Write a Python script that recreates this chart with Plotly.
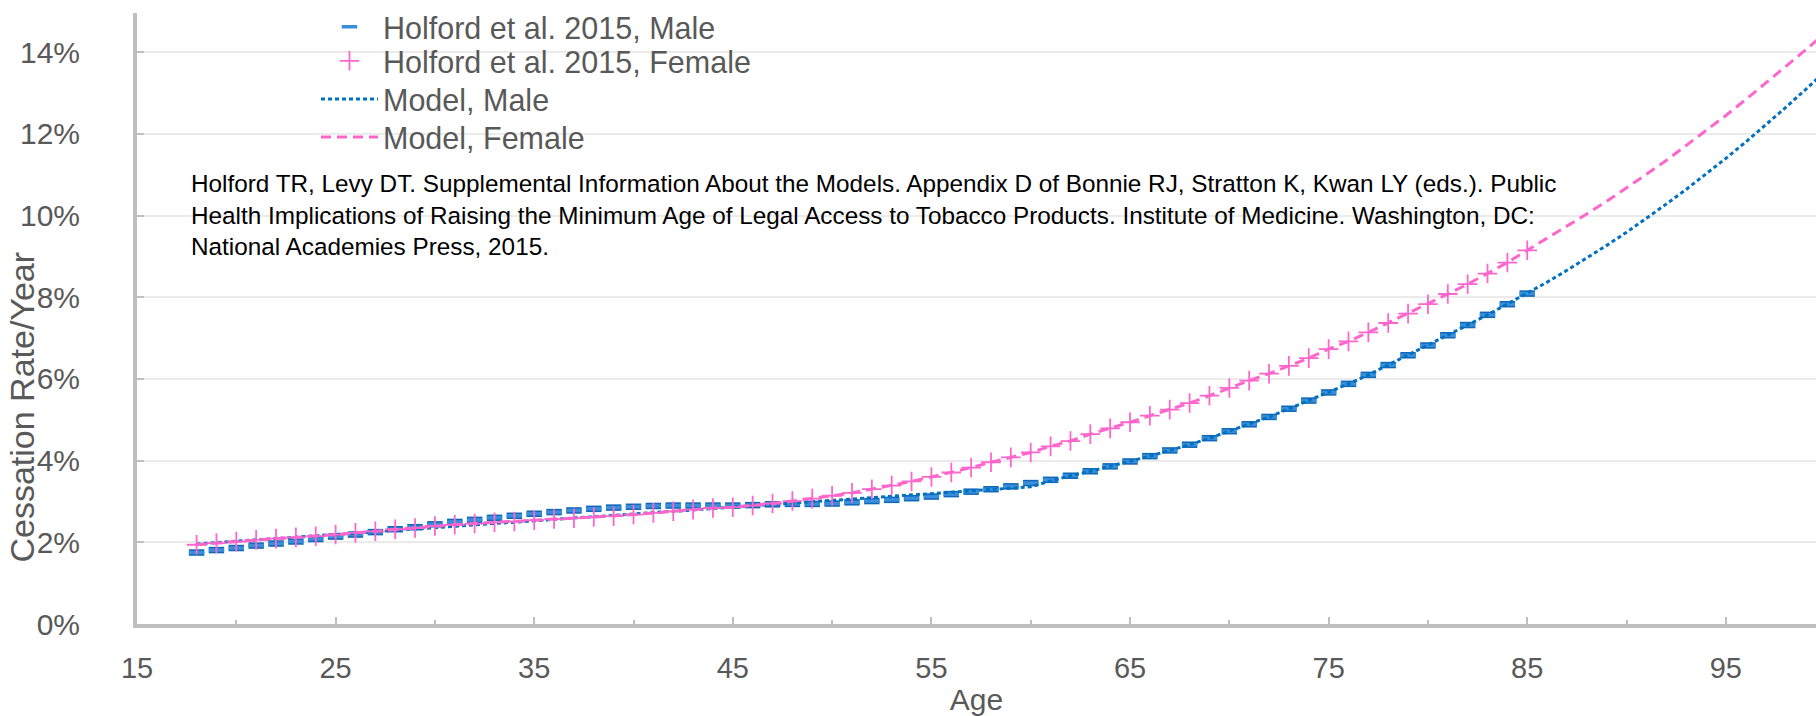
import plotly.graph_objects as go

# ---------------- data ----------------
ages = list(range(18, 86))

holford_male = [1.75, 1.81, 1.86, 1.92, 1.97, 2.02, 2.08, 2.14, 2.19, 2.25,
                2.32, 2.37, 2.44, 2.50, 2.55, 2.60, 2.65, 2.70, 2.74, 2.78,
                2.82, 2.85, 2.87, 2.89, 2.90, 2.90, 2.90, 2.90, 2.91, 2.93,
                2.94, 2.94, 2.95, 2.98, 3.01, 3.04, 3.08, 3.12, 3.18, 3.24,
                3.30, 3.37, 3.45, 3.53, 3.63, 3.74, 3.86, 3.98, 4.11, 4.25,
                4.39, 4.55, 4.72, 4.89, 5.07, 5.27, 5.47, 5.67, 5.88, 6.10,
                6.34, 6.58, 6.82, 7.07, 7.32, 7.57, 7.83, 8.09]

holford_female = [1.94, 1.98, 2.02, 2.06, 2.09, 2.12, 2.15, 2.19, 2.23, 2.27,
                  2.32, 2.35, 2.40, 2.43, 2.46, 2.49, 2.51, 2.54, 2.57, 2.59,
                  2.62, 2.64, 2.68, 2.72, 2.76, 2.80, 2.84, 2.86, 2.90, 2.95,
                  3.01, 3.07, 3.14, 3.21, 3.30, 3.39, 3.49, 3.60, 3.71, 3.83,
                  3.96, 4.08, 4.20, 4.35, 4.48, 4.65, 4.79, 4.94, 5.10, 5.25,
                  5.41, 5.59, 5.78, 5.96, 6.13, 6.32, 6.51, 6.73, 6.92, 7.14,
                  7.37, 7.60, 7.83, 8.08, 8.32, 8.58, 8.85, 9.15]

model_male_ages = [18, 60] + list(range(61, 101))
model_male = [1.96, 3.36,
              3.50, 3.63, 3.74, 3.86, 3.98, 4.11, 4.25, 4.39, 4.55, 4.72,
              4.89, 5.07, 5.27, 5.47, 5.67, 5.88, 6.10, 6.34, 6.58, 6.82,
              7.07, 7.32, 7.57, 7.83, 8.09,
              8.37, 8.66, 8.96, 9.27, 9.59, 9.93, 10.28, 10.64, 11.01, 11.40,
              11.80, 12.21, 12.64, 13.08, 13.53]

model_female_ages = list(range(18, 101))
model_female = holford_female + [9.44, 9.73, 10.04, 10.35, 10.67, 11.01, 11.35,
                                 11.71, 12.07, 12.45, 12.84, 13.24, 13.64,
                                 14.05, 14.47]

y_ticks = [0, 2, 4, 6, 8, 10, 12, 14]
y_tick_text = ["0%", "2%", "4%", "6%", "8%", "10%", "12%", "14%"]
x_ticks = [15, 25, 35, 45, 55, 65, 75, 85, 95]

citation = ("Holford TR, Levy DT. Supplemental Information About the Models. Appendix D of "
            "Bonnie RJ, Stratton K, Kwan LY (eds.). Public<br>Health Implications of Raising "
            "the Minimum Age of Legal Access to Tobacco Products. Institute of Medicine. "
            "Washington, DC:<br>National Academies Press, 2015.")

# ---------------- styles ----------------
BLUE = "#0070c0"
BLUE_MK = "#3a8fdb"
BLUE_EDGE = "#0f68b8"
PINK = "#ff66cc"
GRAY = "#595959"
AXIS = "#bfbfbf"
FONT = "Liberation Sans, Arial, sans-serif"

fig = go.Figure()

# outline layer for the male bar markers
fig.add_trace(go.Scatter(
    x=ages, y=holford_male, mode="markers", showlegend=False, hoverinfo="skip",
    marker=dict(symbol="line-ew", size=11, line=dict(width=6.5, color=BLUE_EDGE))))
fig.add_trace(go.Scatter(
    x=ages, y=holford_male, mode="markers", name="Holford et al. 2015, Male",
    legend="legend",
    marker=dict(symbol="line-ew", size=11, line=dict(width=3.5, color=BLUE_MK))))
fig.add_trace(go.Scatter(
    x=model_male_ages, y=model_male, mode="lines", name="Model, Male",
    legend="legend3", line=dict(color=BLUE, width=3, dash="4px,3px")))
fig.add_trace(go.Scatter(
    x=ages, y=holford_female, mode="markers", name="Holford et al. 2015, Female",
    legend="legend2",
    marker=dict(symbol="cross-thin", size=14, line=dict(width=1.8, color=PINK))))
fig.add_trace(go.Scatter(
    x=model_female_ages, y=model_female, mode="lines", name="Model, Female",
    legend="legend4", line=dict(color=PINK, width=3, dash="10px,6px")))


def legend_box(ypos, anchor="middle"):
    return dict(x=0.1066, y=ypos, xanchor="left", yanchor=anchor,
                bgcolor="rgba(0,0,0,0)", font=dict(size=30.5, color=GRAY),
                itemwidth=57, tracegroupgap=0)


fig.update_layout(
    width=1816, height=716,
    margin=dict(l=137, r=0, t=13, b=92),
    paper_bgcolor="white", plot_bgcolor="white",
    font=dict(family=FONT, color=GRAY, size=29),
    showlegend=True,
    legend=legend_box(1.0205, "top"),
    legend2=legend_box(0.9215),
    legend3=legend_box(0.8588),
    legend4=legend_box(0.7966),
    xaxis=dict(range=[15, 99.54], tickvals=x_ticks, ticks="inside", ticklen=7,
               tickwidth=1.5, tickcolor=AXIS, showline=True, linecolor=AXIS,
               linewidth=4, showgrid=False, zeroline=False,
               tickfont=dict(size=29, color=GRAY), ticklabelstandoff=15,
               minor=dict(dtick=5, tick0=15, ticks="inside", ticklen=4,
                          tickwidth=1.5, tickcolor=AXIS, showgrid=False),
               title=dict(text="Age", font=dict(size=30, color=GRAY), standoff=12)),
    yaxis=dict(range=[0, 14.96], tickvals=y_ticks, ticktext=y_tick_text,
               ticks="inside", ticklen=7, tickwidth=1.5, tickcolor=AXIS,
               showline=True, linecolor=AXIS, linewidth=4, showgrid=True,
               gridcolor="#ebebeb", gridwidth=1.5, zeroline=False,
               tickfont=dict(size=30, color=GRAY), ticklabelstandoff=47),
    annotations=[
        dict(text=citation, xref="paper", yref="paper", x=0.031, y=0.670,
             xanchor="left", yanchor="middle", align="left", showarrow=False,
             font=dict(size=24.3, color="black", family=FONT)),
        dict(text="Cessation Rate/Year", xref="paper", yref="paper",
             x=-0.0684, y=0.3545, xanchor="center", yanchor="middle",
             textangle=-90, showarrow=False,
             font=dict(size=34, color=GRAY, family=FONT)),
    ],
)

fig.write_html("out.html", config={"displayModeBar": False},
               post_script="document.body.style.margin='0px';")
